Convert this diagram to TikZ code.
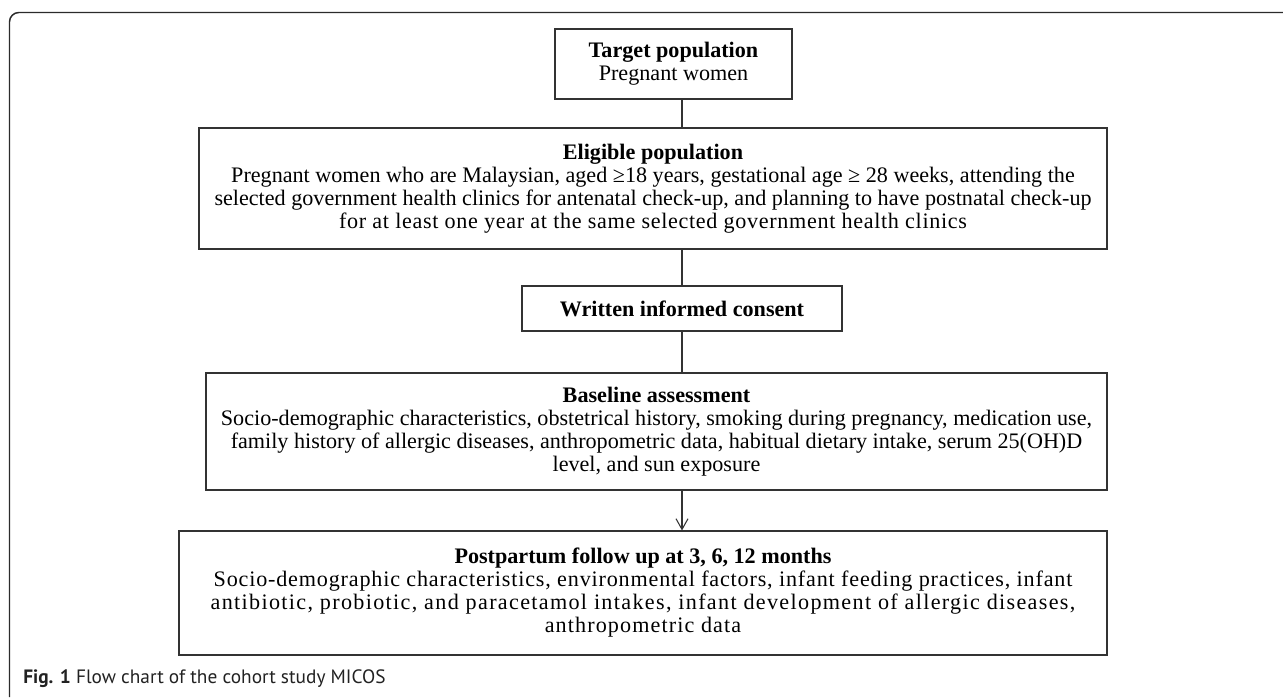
\documentclass[tikz,border=0pt]{standalone}
\usepackage{fontspec}
\setmainfont{Liberation Serif}
\newfontfamily\capfont{PT Sans}
\usetikzlibrary{arrows.meta}
\definecolor{frameline}{HTML}{2B2B2B}
\definecolor{boxline}{HTML}{333333}
\definecolor{captext}{HTML}{222222}

\begin{document}
\begin{tikzpicture}[x=0.75pt, y=-0.75pt,
    box/.style={draw=boxline, line width=0.8pt, align=center, inner sep=0pt,
      font=\fontsize{16.6}{17.25}\selectfont},
    link/.style={draw=boxline, line width=0.8pt}]
  \useasboundingbox (0,0) rectangle (1283,697);
  \draw[frameline, line width=1.1pt, rounded corners=7pt] (9.5,697) -- (9.5,12.5) -- (1283,12.5);
  \coordinate (spine) at (682,0);

  \node[box, minimum width=177.75pt, minimum height=52.5pt] (target) at (673.5,64) {%
    \textbf{Target population}\\
    Pregnant women};
  \node[box, minimum width=681pt, minimum height=90.75pt] (eligible) at (653,188.5) {%
    \textbf{Eligible population}\\
    Pregnant women who are Malaysian, aged ≥18 years, gestational age ≥ 28 weeks, attending the\\
    selected government health clinics for antenatal check-up, and planning to have postnatal check-up\\
    {\addfontfeatures{LetterSpace=3}for at least one year at the same selected government health clinics}};
  \node[box, minimum width=240pt, minimum height=33.75pt] (consent) at (682,308.5) {%
    \textbf{Written informed consent}};
  \node[box, minimum width=675.75pt, minimum height=87.75pt] (baseline) at (656.5,431.5) {%
    \textbf{Baseline assessment}\\
    Socio-demographic characteristics, obstetrical history, smoking during pregnancy, medication use,\\
    family history of allergic diseases, anthropometric data, habitual dietary intake, serum 25(OH)D\\
    level, and sun exposure};
  \node[box, minimum width=696pt, minimum height=93pt] (followup) at (643,593) {%
    \textbf{Postpartum follow up at 3, 6, 12 months}\\
    {\addfontfeatures{LetterSpace=3.7}Socio-demographic characteristics, environmental factors, infant feeding practices, infant}\\
    {\addfontfeatures{LetterSpace=6}antibiotic, probiotic, and paracetamol intakes, infant development of allergic diseases,}\\
    {\addfontfeatures{LetterSpace=5}anthropometric data}};

  \draw[link] (target.south -| spine) -- (eligible.north -| spine);
  \draw[link] (eligible.south -| spine) -- (consent.north -| spine);
  \draw[link] (consent.south -| spine) -- (baseline.north -| spine);
  \draw[link, -{Straight Barb[length=8pt, width=9pt]}] (baseline.south -| spine) -- (followup.north -| spine);

  \node[anchor=base west, inner sep=0pt, text=captext, font=\capfont\fontsize{14.5}{16}\selectfont] (caption) at (23,683) {%
    \textbf{Fig. 1} Flow chart of the cohort study MICOS};
\end{tikzpicture}
\end{document}
